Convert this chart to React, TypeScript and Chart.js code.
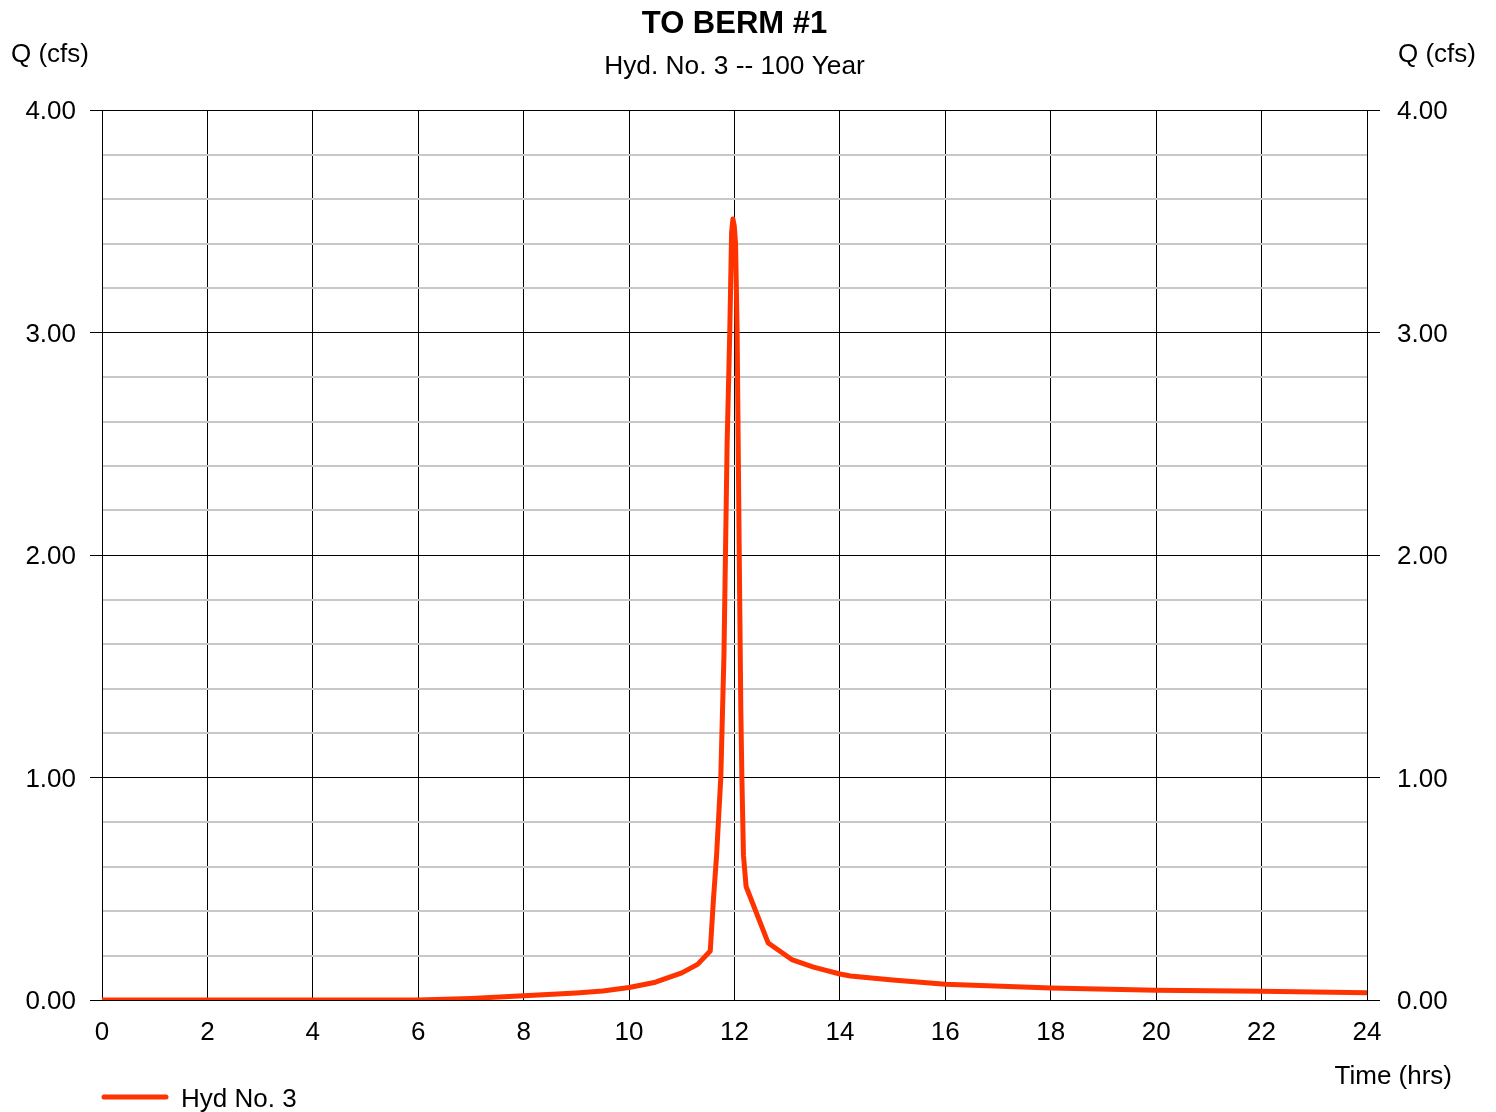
import React, { useEffect, useRef } from "react";
import { Chart, registerables } from "chart.js";

Chart.register(...registerables);

const TITLE = "TO BERM #1";
const SUBTITLE = "Hyd. No. 3 -- 100 Year";
const Y_LABEL = "Q (cfs)";
const X_LABEL = "Time (hrs)";
const SERIES_NAME = "Hyd No. 3";

// Time (hrs)
const timeHrs: number[] = [
  0, 2, 4, 6, 7, 8, 9, 9.5, 10, 10.5, 11, 11.3, 11.54, 11.6, 11.66, 11.74, 11.8,
  11.86, 11.91, 11.945, 11.97, 11.995, 12.02, 12.05, 12.09, 12.12, 12.14, 12.17,
  12.22, 12.64, 13.1, 13.5, 14.0, 14.2, 15.0, 16.0, 18.0, 20.0, 22.0, 24.0,
];
// Q (cfs)
const flowCfs: number[] = [
  0, 0, 0, 0, 0.007, 0.019, 0.032, 0.04, 0.056, 0.08, 0.122, 0.16, 0.22, 0.45,
  0.65, 1.0, 1.55, 2.5, 3.0, 3.45, 3.51, 3.48, 3.4, 3.0, 2.0, 1.3, 1.0, 0.65,
  0.51, 0.256, 0.18, 0.148, 0.117, 0.108, 0.09, 0.071, 0.054, 0.044, 0.039, 0.033,
];

const X_MIN = 0;
const X_MAX = 24;
const X_STEP = 2;
const Y_MIN = 0;
const Y_MAX = 4;
const Y_STEP = 0.2;

const FONT = "'Liberation Sans', Arial, sans-serif";
const LINE_COLOR = "#FF3300";

const isMajor = (v: number) => Math.abs(v - Math.round(v)) < 1e-6;

export default function App() {
  const ref = useRef<HTMLCanvasElement | null>(null);

  useEffect(() => {
    if (!ref.current) return;

    const textPlugin = {
      id: "texts",
      afterDraw(chart: any) {
        const ctx = chart.ctx as CanvasRenderingContext2D;
        const area = chart.chartArea;
        const cx = (area.left + area.right) / 2;
        ctx.save();
        ctx.fillStyle = "#000";
        ctx.textBaseline = "alphabetic";
        ctx.textAlign = "center";
        ctx.font = `bold 31px ${FONT}`;
        ctx.fillText(TITLE, cx, 33);
        ctx.font = `26.3px ${FONT}`;
        ctx.fillText(SUBTITLE, cx, 74);
        ctx.font = `26px ${FONT}`;
        ctx.textAlign = "left";
        ctx.fillText(Y_LABEL, 11, 62);
        ctx.fillText(Y_LABEL, 1398, 62);
        ctx.textAlign = "right";
        ctx.fillText(X_LABEL, 1452, 1084);
        // legend
        ctx.strokeStyle = LINE_COLOR;
        ctx.lineWidth = 5;
        ctx.lineCap = "round";
        ctx.beginPath();
        ctx.moveTo(104, 1097);
        ctx.lineTo(166, 1097);
        ctx.stroke();
        ctx.textAlign = "left";
        ctx.fillText(SERIES_NAME, 181, 1106.5);
        ctx.restore();
      },
    };

    const yTicks = (padding: number) => ({
      stepSize: Y_STEP,
      autoSkip: false,
      padding,
      labelOffset: 2,
      color: "#000",
      font: { family: FONT, size: 26 },
      callback: (v: any) => (isMajor(Number(v)) ? Number(v).toFixed(2) : ""),
    });

    const chart = new Chart(ref.current, {
      type: "line",
      data: {
        datasets: [
          {
            label: SERIES_NAME,
            data: timeHrs.map((t, i) => ({ x: t, y: flowCfs[i] })),
            borderColor: LINE_COLOR,
            backgroundColor: LINE_COLOR,
            borderWidth: 5,
            pointRadius: 0,
            tension: 0,
            borderJoinStyle: "round",
            borderCapStyle: "round",
            fill: false,
            yAxisID: "y",
          },
        ],
      },
      options: {
        animation: false,
        responsive: false,
        layout: { padding: { top: 110, left: 0, right: 0, bottom: 0 } },
        plugins: {
          legend: { display: false },
          title: { display: false },
          tooltip: { enabled: false },
        },
        scales: {
          x: {
            type: "linear",
            min: X_MIN,
            max: X_MAX,
            ticks: {
              stepSize: X_STEP,
              autoSkip: false,
              padding: 17,
              color: "#000",
              font: { family: FONT, size: 26 },
              maxRotation: 0,
            },
            grid: { color: "#000", lineWidth: 1, drawTicks: false },
            border: { display: true, color: "#000", width: 1 },
            afterFit: (s: any) => {
              s.height = 112;
            },
          },
          y: {
            type: "linear",
            position: "left",
            min: Y_MIN,
            max: Y_MAX,
            ticks: yTicks(14),
            grid: {
              color: (c: any) => (isMajor(c.tick.value) ? "#000" : "#c8c8c8"),
              lineWidth: (c: any) => (isMajor(c.tick.value) ? 1 : 2),
              tickColor: (c: any) => (isMajor(c.tick.value) ? "#000" : "rgba(0,0,0,0)"),
              tickLength: 12,
            },
            border: { display: true, color: "#000", width: 1 },
            afterFit: (s: any) => {
              s.width = 102;
            },
          },
          y2: {
            type: "linear",
            position: "right",
            min: Y_MIN,
            max: Y_MAX,
            ticks: yTicks(17),
            grid: {
              drawOnChartArea: false,
              color: (c: any) => (isMajor(c.tick.value) ? "#000" : "rgba(0,0,0,0)"),
              tickColor: (c: any) => (isMajor(c.tick.value) ? "#000" : "rgba(0,0,0,0)"),
              tickLength: 13,
            },
            border: { display: true, color: "#000", width: 1 },
            afterFit: (s: any) => {
              s.width = 129;
            },
          },
        },
      },
      plugins: [textPlugin],
    } as any);

    return () => chart.destroy();
  }, []);

  return (
    <div style={{ position: "fixed", left: 0, top: 0, width: 1496, height: 1112, background: "#fff" }}>
      <canvas ref={ref} width={1496} height={1112} style={{ display: "block" }} />
    </div>
  );
}
